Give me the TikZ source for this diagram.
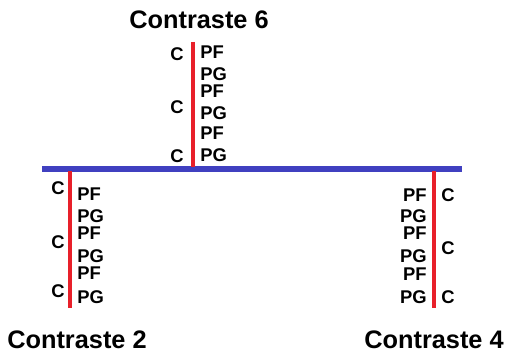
\documentclass[tikz,border=0pt]{standalone}
\usepackage{fontspec}
\setmainfont{Liberation Sans}
\definecolor{hblue}{HTML}{4040C0}
\definecolor{vred}{HTML}{E8202A}
\begin{document}
\begin{tikzpicture}[x=0.75pt,y=-0.75pt,
  lbl/.style={font=\bfseries\fontsize{13.8}{14}\selectfont, inner sep=0pt},
  ttl/.style={font=\bfseries\fontsize{19}{21}\selectfont, inner sep=0pt},
  hbar/.style={draw=hblue, line width=4.5pt},
  vbar/.style={draw=vred, line width=3pt}]
\useasboundingbox (0,0) rectangle (507,353);
% horizontal bar
\coordinate (hl) at (42,169);
\coordinate (hr) at (462,169);
\draw[hbar] (hl) -- (hr);
% top
\coordinate (t1) at (193,42);
\coordinate (t2) at (193,167);
\draw[vbar] (t1) -- (t2);
\node[ttl] (T6) at (199,20) {Contraste 6};
\node[lbl] (tc1) at (177,54) {C};
\node[lbl] (tc2) at (177,107) {C};
\node[lbl] (tc3) at (177,156) {C};
\node[lbl,anchor=west] (tp1) at (200,52) {PF};
\node[lbl,anchor=west] (tp2) at (200,74) {PG};
\node[lbl,anchor=west] (tp3) at (200,91) {PF};
\node[lbl,anchor=west] (tp4) at (200,113) {PG};
\node[lbl,anchor=west] (tp5) at (200,133) {PF};
\node[lbl,anchor=west] (tp6) at (200,155) {PG};
% left
\coordinate (l1) at (70,171);
\coordinate (l2) at (70,308);
\draw[vbar] (l1) -- (l2);
\node[ttl] (T2) at (77,340) {Contraste 2};
\node[lbl] (lc1) at (58,188) {C};
\node[lbl] (lc2) at (58,242) {C};
\node[lbl] (lc3) at (58,291) {C};
\node[lbl,anchor=west] (lp1) at (77,194) {PF};
\node[lbl,anchor=west] (lp2) at (77,216) {PG};
\node[lbl,anchor=west] (lp3) at (77,233) {PF};
\node[lbl,anchor=west] (lp4) at (77,256) {PG};
\node[lbl,anchor=west] (lp5) at (77,273) {PF};
\node[lbl,anchor=west] (lp6) at (77,297) {PG};
% right
\coordinate (r1) at (434,171);
\coordinate (r2) at (434,308);
\draw[vbar] (r1) -- (r2);
\node[ttl] (T4) at (434,340) {Contraste 4};
\node[lbl] (rc1) at (448,195) {C};
\node[lbl] (rc2) at (448,248) {C};
\node[lbl] (rc3) at (448,297) {C};
\node[lbl,anchor=east] (rp1) at (427,195) {PF};
\node[lbl,anchor=east] (rp2) at (427,216) {PG};
\node[lbl,anchor=east] (rp3) at (427,233) {PF};
\node[lbl,anchor=east] (rp4) at (427,256) {PG};
\node[lbl,anchor=east] (rp5) at (427,274) {PF};
\node[lbl,anchor=east] (rp6) at (427,297) {PG};
\end{tikzpicture}
\end{document}
